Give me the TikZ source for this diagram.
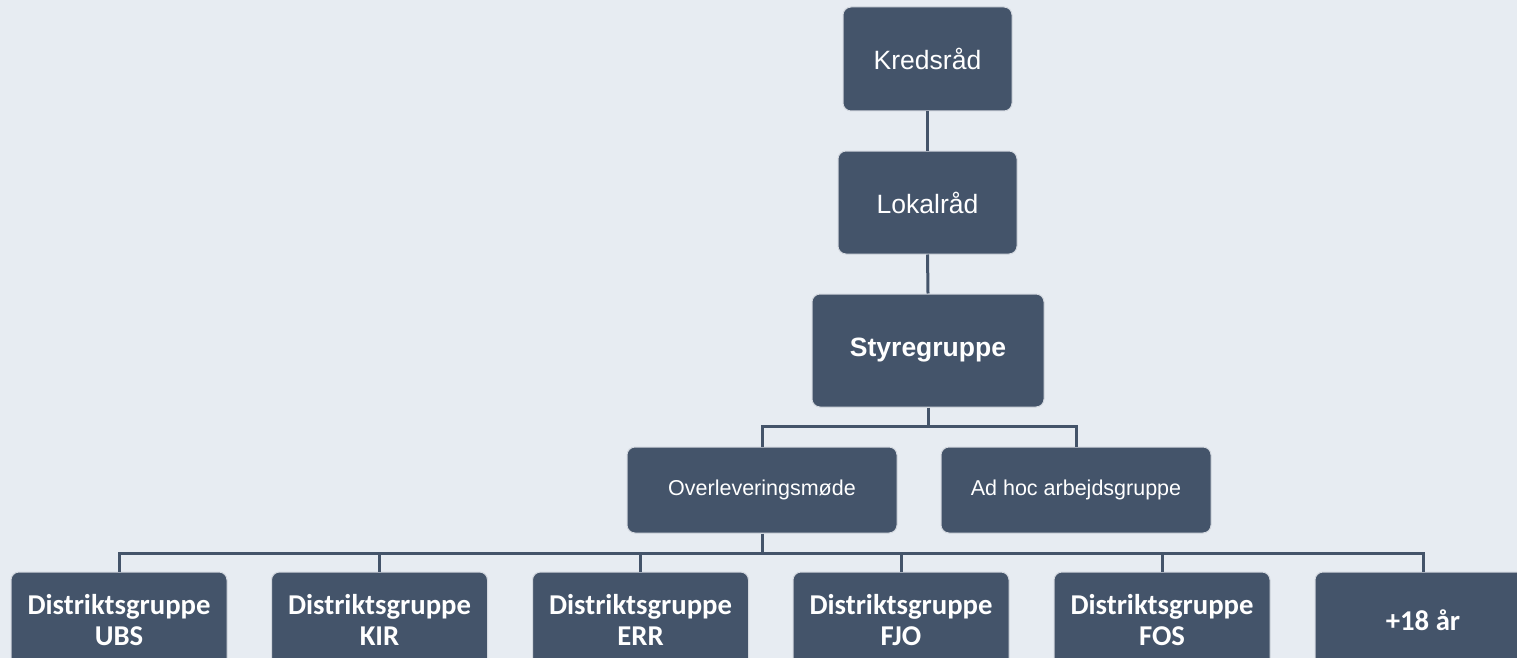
\documentclass[tikz,border=0pt]{standalone}
\usepackage{fontspec}
\setmainfont{Liberation Sans}
\newfontfamily\carlito{Carlito}
\definecolor{boxc}{HTML}{44546A}
\definecolor{bgc}{HTML}{E7ECF2}
\definecolor{edgec}{HTML}{D3D8DF}
\begin{document}
\begin{tikzpicture}[x=1pt,y=-1pt,
  box/.style={draw=edgec, line width=1pt, fill=boxc, rounded corners=8pt, text=white, inner sep=0pt, align=center},
  topbox/.style={box, font=\fontsize{26.5}{30}\selectfont},
  midbox/.style={box, minimum width=270pt, minimum height=86pt, font=\fontsize{21.5}{25}\selectfont},
  distbox/.style={box, minimum width=216pt, minimum height=96pt, font=\carlito\bfseries\fontsize{28.7}{31}\selectfont},
  conn/.style={draw=boxc, line width=3pt}]
\useasboundingbox (0,0) rectangle (1517,658);
\fill[bgc] (0,0) rectangle (1517,658);
\clip (0,0) rectangle (1517,658);

\node[topbox, minimum width=169pt, minimum height=104pt] (kr) at (927.5,59) {Kredsråd};
\node[topbox, minimum width=179pt, minimum height=103pt] (lr) at (927.5,202.5) {Lokalråd};
\node[topbox, minimum width=232pt, minimum height=113pt, font=\bfseries\fontsize{26.5}{30}\selectfont] (sg) at (928,350.5) {Styregruppe};
\node[midbox] (ov) at (762,490) {Overleveringsmøde};
\node[midbox] (ah) at (1076,490) {Ad hoc arbejdsgruppe};

\node[distbox] (d1) at (119,620) {Distriktsgruppe\\UBS};
\node[distbox] (d2) at (379.5,620) {Distriktsgruppe\\KIR};
\node[distbox] (d3) at (640.5,620) {Distriktsgruppe\\ERR};
\node[distbox] (d4) at (901,620) {Distriktsgruppe\\FJO};
\node[distbox] (d5) at (1162,620) {Distriktsgruppe\\FOS};
\node[distbox] (d6) at (1423,620) {+18 år};

\coordinate (j1) at (928,426);
\coordinate (j2) at (762,553);

\draw[conn] (kr.south) -- (lr.north);
\draw[conn] (lr.south) -- (sg.north);
\draw[conn] (sg.south) -- (j1);
\draw[conn] (ov.north) -- (ov.north |- j1) -- (ah.north |- j1) -- (ah.north);
\draw[conn] (ov.south) -- (j2);
\draw[conn] (d1.north) -- (d1.north |- j2) -- (d6.north |- j2) -- (d6.north);
\draw[conn] (d2.north) -- (d2.north |- j2);
\draw[conn] (d3.north) -- (d3.north |- j2);
\draw[conn] (d4.north) -- (d4.north |- j2);
\draw[conn] (d5.north) -- (d5.north |- j2);
\end{tikzpicture}
\end{document}
